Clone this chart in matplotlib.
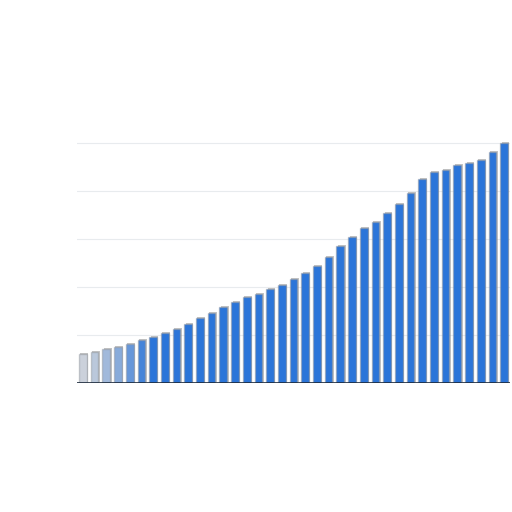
import matplotlib.pyplot as plt
import matplotlib.patheffects as pe
import numpy as np

# bar heights (one gridline step = 10)
values = [6.0, 6.5, 7.1, 7.5, 8.1, 9.0, 9.6, 10.4, 11.3, 12.3,
          13.5, 14.6, 15.8, 16.9, 17.9, 18.5, 19.6, 20.4, 21.7, 22.9,
          24.4, 26.3, 28.5, 30.4, 32.3, 33.5, 35.4, 37.3, 39.6, 42.5,
          44.0, 44.4, 45.4, 45.8, 46.5, 48.1, 50.0]
# how strongly each bar shows (left side fades out)
fade = [0.05, 0.15, 0.3, 0.45, 0.65, 0.85] + [1.0] * 31

blue = np.array([0.17, 0.46, 0.85])
grey = np.array([0.83, 0.84, 0.86])

fig = plt.figure(figsize=(5.12, 5.12), dpi=100)
ax = fig.add_axes([77 / 512, 1 - 383 / 512, 433 / 512, 264 / 512])

x = np.arange(len(values))
colors = [tuple(grey + (blue - grey) * f) for f in fade]
bars = ax.bar(x, values, width=0.66, color=colors, zorder=3,
              edgecolor=(0.55, 0.57, 0.6, 0.45), linewidth=1.0)
for b in bars:
    b.set_path_effects([pe.SimplePatchShadow(offset=(1.0, 0.6), shadow_rgbFace='#8a8a8a', alpha=0.5),
                        pe.Normal()])

# faint gridlines
for g in [10, 20, 30, 40, 50]:
    ax.axhline(g, color='#e8ebee', linewidth=0.8, zorder=1)

ax.axhline(0, color='#1c2a3c', linewidth=1.2, zorder=4,
           path_effects=[pe.SimpleLineShadow(offset=(0, -2), shadow_color='#888888', alpha=0.5), pe.Normal()])

ax.set_xlim(-0.5, len(values) - 0.5)
ax.set_ylim(0, 55)
ax.axis('off')

fig.savefig("out.png", dpi=100, facecolor='white')
